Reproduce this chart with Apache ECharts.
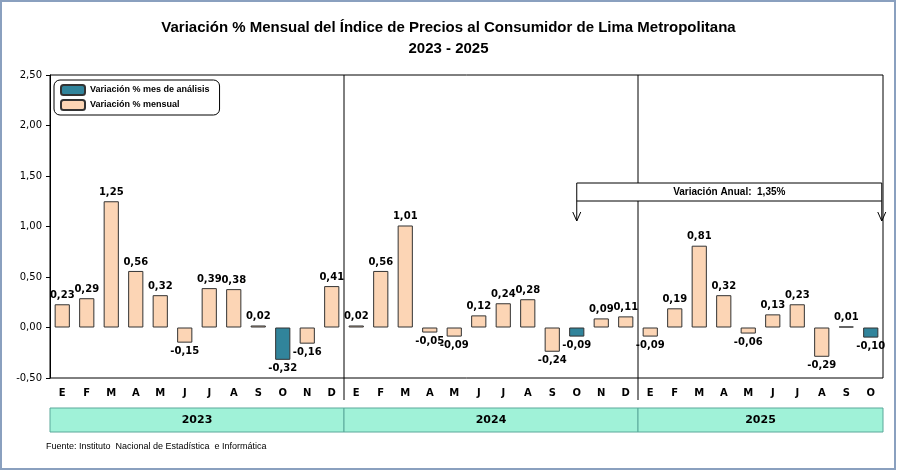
<!DOCTYPE html>
<html lang="es">
<head>
<meta charset="UTF-8">
<title>IPC Lima</title>
<script src="https://cdn.jsdelivr.net/npm/echarts@6/dist/echarts.min.js"></script>
<style>
  body { margin: 0; background: #fff; }
  #main { width: 897px; height: 471px; }
</style>
</head>
<body>
<div id="main"></div>
<script>
// datos
var months = ['E','F','M','A','M','J','J','A','S','O','N','D',
              'E','F','M','A','M','J','J','A','S','O','N','D',
              'E','F','M','A','M','J','J','A','S','O'];
var years = ['2023', '2024', '2025'];
var yearCounts = [12, 12, 10];
var values = [0.23, 0.29, 1.25, 0.56, 0.32, -0.15, 0.39, 0.38, 0.02, -0.32, -0.16, 0.41,
              0.02, 0.56, 1.01, -0.05, -0.09, 0.12, 0.24, 0.28, -0.24, -0.09, 0.09, 0.11,
              -0.09, 0.19, 0.81, 0.32, -0.06, 0.13, 0.23, -0.29, 0.01, -0.10];
var analysisIdx = [9, 21, 33];

function fmt(v) { return v.toFixed(2).replace('.', ','); }

function item(v) {
  return v < 0 ? { value: v, label: { position: 'bottom' } } : v;
}
var monthly = values.map(function (v, i) { return analysisIdx.indexOf(i) >= 0 ? '-' : item(v); });
var analysis = values.map(function (v, i) { return analysisIdx.indexOf(i) >= 0 ? item(v) : '-'; });

var chart = echarts.init(document.getElementById('main'));
function labelCfg() {
  return {
    show: true, position: 'top', distance: 4,
    fontFamily: 'Verdana, DejaVu Sans', fontSize: 10, fontWeight: 'bold', color: '#000',
    formatter: function (p) { return fmt(p.value); }
  };
}
chart.setOption({
  animation: false,
  title: {
    text: 'Variación % Mensual del Índice de Precios al Consumidor de Lima Metropolitana\n2023 - 2025',
    left: 'center', top: 12,
    textStyle: { fontFamily: 'Arial, Liberation Sans', fontSize: 15, fontWeight: 'bold', color: '#000', lineHeight: 21 }
  },
  legend: {
    left: 54, top: 80, orient: 'vertical', itemWidth: 24, itemHeight: 10, itemGap: 3,
    padding: [4, 10, 4, 6], borderColor: '#000', borderWidth: 1, borderRadius: 6,
    textStyle: { fontFamily: 'Arial, Liberation Sans', fontSize: 9, fontWeight: 'bold', color: '#000' },
    data: ['Variación % mes de análisis', 'Variación % mensual']
  },
  grid: { left: 50, right: 14, top: 75, bottom: 93 },
  xAxis: {
    type: 'category', data: months,
    axisLine: { show: false }, axisTick: { show: false },
    axisLabel: { fontFamily: 'Verdana, DejaVu Sans', fontSize: 10, fontWeight: 'bold', color: '#000', margin: 10, interval: 0 }
  },
  yAxis: {
    type: 'value', min: -0.5, max: 2.5, interval: 0.5,
    axisLine: { show: true, lineStyle: { color: '#000' } },
    axisTick: { show: true, length: 4, lineStyle: { color: '#000' } },
    splitLine: { show: false },
    axisLabel: { fontFamily: 'Verdana, DejaVu Sans', fontSize: 10, color: '#000', formatter: function (v) { return fmt(v); } }
  },
  series: [
    {
      name: 'Variación % mes de análisis', type: 'bar', stack: 's', data: analysis, barWidth: '62%',
      itemStyle: { color: '#31849b', borderColor: '#333', borderWidth: 1 },
      label: labelCfg()
    },
    {
      name: 'Variación % mensual', type: 'bar', stack: 's', data: monthly, barWidth: '62%',
      itemStyle: { color: '#fcd5b5', borderColor: '#333', borderWidth: 1 },
      label: labelCfg()
    }
  ]
});

// decoraciones
var g = [];
var plotTop = 75, plotBot = 378;
var x0 = chart.convertToPixel({ xAxisIndex: 0 }, 0);
var step = chart.convertToPixel({ xAxisIndex: 0 }, 1) - x0;
var start = 0;
g.push({ type: 'rect', silent: true, shape: { x: 50, y: plotTop, width: 897 - 14 - 50, height: plotBot - plotTop }, style: { fill: 'none', stroke: '#000', lineWidth: 1 } });
g.push({ type: 'rect', silent: true, shape: { x: 1, y: 1, width: 894, height: 468 }, style: { fill: 'none', stroke: '#8aa0bf', lineWidth: 2 } });
yearCounts.forEach(function (n, k) {
  var xa = x0 - step / 2 + start * step;
  var xb = xa + n * step;
  if (k > 0) g.push({ type: 'line', shape: { x1: xa, y1: plotTop, x2: xa, y2: 400 }, style: { stroke: '#000', lineWidth: 1 } });
  g.push({ type: 'rect', shape: { x: xa, y: 408, width: xb - xa, height: 24 }, style: { fill: '#a0f2d8', stroke: '#5aa89a', lineWidth: 1 } });
  g.push({ type: 'text', x: (xa + xb) / 2, y: 420, style: { text: years[k], font: 'bold 11px Verdana, DejaVu Sans', fill: '#000', align: 'center', verticalAlign: 'middle' } });
  start += n;
});
var xl = chart.convertToPixel({ xAxisIndex: 0 }, 21);
var xr = chart.convertToPixel({ xAxisIndex: 0 }, 33) + step * 0.45;
g.push({ type: 'rect', shape: { x: xl, y: 183, width: xr - xl, height: 18 }, style: { fill: '#fff', stroke: '#000', lineWidth: 1 } });
g.push({ type: 'text', x: (xl + xr) / 2, y: 192, style: { text: 'Variación Anual:  1,35%', font: 'bold 10px Arial, Liberation Sans', fill: '#000', align: 'center', verticalAlign: 'middle' } });
[xl, xr].forEach(function (x) {
  g.push({ type: 'line', shape: { x1: x, y1: 201, x2: x, y2: 221 }, style: { stroke: '#000', lineWidth: 1 } });
  g.push({ type: 'polyline', shape: { points: [[x - 4, 212], [x, 221], [x + 4, 212]] }, style: { stroke: '#000', fill: 'none', lineWidth: 1 } });
});
g.push({ type: 'text', x: 46, y: 447, style: { text: 'Fuente: Instituto  Nacional de Estadística  e Informática', font: '9px Arial, Liberation Sans', fill: '#000', verticalAlign: 'middle' } });
chart.setOption({ graphic: g });
</script>
</body>
</html>
